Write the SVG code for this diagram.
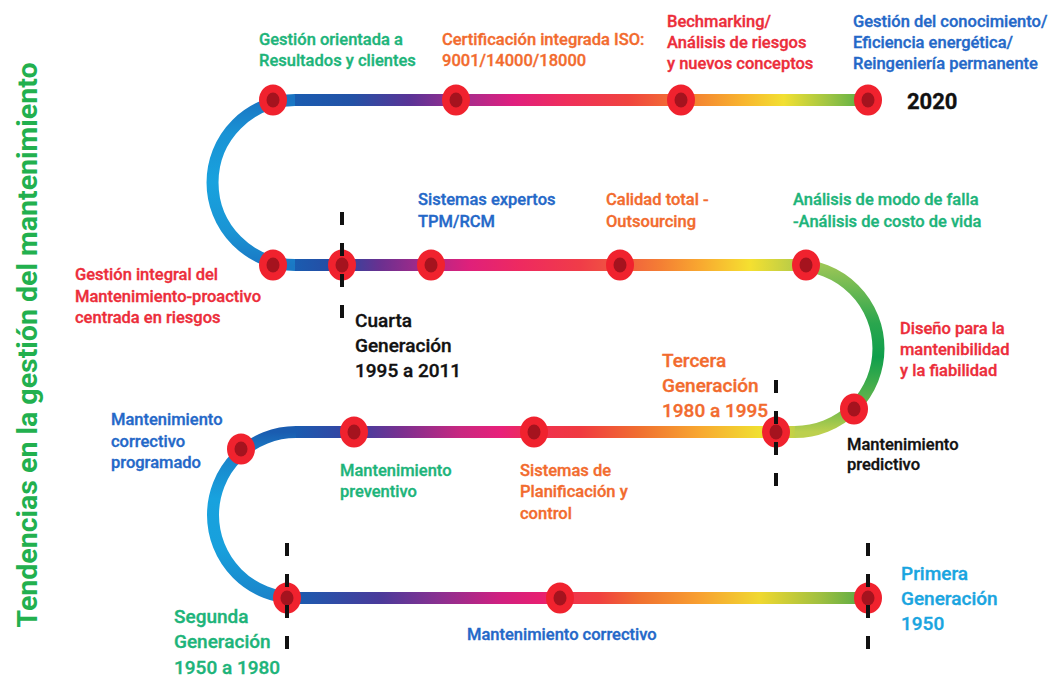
<svg xmlns="http://www.w3.org/2000/svg" width="1053" height="680" viewBox="0 0 1053 680">
<style>
  text { font-family: Roboto, "Liberation Sans", sans-serif; font-weight: 500; font-size: 16.5px; stroke-width: 0.35px; paint-order: stroke; }
  .big { font-size: 19px; }
  .green { fill: #1db47a; stroke: #1db47a; }
  .orange { fill: #f26b2e; stroke: #f26b2e; }
  .red { fill: #ec2d3a; stroke: #ec2d3a; }
  .blue { fill: #2468c8; stroke: #2468c8; }
  .lblue { fill: #1aa5e0; stroke: #1aa5e0; }
  .black { fill: #111111; stroke: #111111; }
  .track { fill: none; stroke-width: 12; }
  .mark { stroke: #111111; stroke-width: 4; stroke-dasharray: 13 18; }
  .title { font-size: 28.5px; font-weight: 700; fill: #22b04e; stroke: none; }
</style>
<defs>
  <linearGradient id="g1" gradientUnits="userSpaceOnUse" x1="295" y1="0" x2="870" y2="0">
    <stop offset="0" stop-color="#1a5cb0"/>
    <stop offset="0.1" stop-color="#2352a6"/>
    <stop offset="0.2" stop-color="#5a3396"/>
    <stop offset="0.3" stop-color="#a82c8c"/>
    <stop offset="0.38" stop-color="#e01f7e"/>
    <stop offset="0.47" stop-color="#ef2e5c"/>
    <stop offset="0.58" stop-color="#f0443e"/>
    <stop offset="0.68" stop-color="#f37a32"/>
    <stop offset="0.78" stop-color="#f8b52e"/>
    <stop offset="0.85" stop-color="#f2e032"/>
    <stop offset="0.93" stop-color="#9cc444"/>
    <stop offset="1" stop-color="#4caa44"/>
  </linearGradient>
  <linearGradient id="g2" gradientUnits="userSpaceOnUse" x1="295" y1="0" x2="795" y2="0">
    <stop offset="0" stop-color="#1a5cb0"/>
    <stop offset="0.094" stop-color="#2a48a0"/>
    <stop offset="0.17" stop-color="#6a3090"/>
    <stop offset="0.27" stop-color="#b02888"/>
    <stop offset="0.35" stop-color="#e0207a"/>
    <stop offset="0.45" stop-color="#ee2a60"/>
    <stop offset="0.57" stop-color="#f03c48"/>
    <stop offset="0.65" stop-color="#f05a40"/>
    <stop offset="0.73" stop-color="#f47e34"/>
    <stop offset="0.81" stop-color="#f8a830"/>
    <stop offset="0.91" stop-color="#f5e030"/>
    <stop offset="1" stop-color="#b8cc48"/>
  </linearGradient>
  <linearGradient id="g3" gradientUnits="userSpaceOnUse" x1="296" y1="0" x2="795" y2="0">
    <stop offset="0" stop-color="#1a5cb0"/>
    <stop offset="0.116" stop-color="#3a40a0"/>
    <stop offset="0.21" stop-color="#7a3090"/>
    <stop offset="0.33" stop-color="#c82880"/>
    <stop offset="0.41" stop-color="#e8207a"/>
    <stop offset="0.48" stop-color="#ef3050"/>
    <stop offset="0.57" stop-color="#f03a40"/>
    <stop offset="0.69" stop-color="#f07030"/>
    <stop offset="0.81" stop-color="#f8a830"/>
    <stop offset="0.93" stop-color="#f0e030"/>
    <stop offset="1" stop-color="#c0d048"/>
  </linearGradient>
  <linearGradient id="g4" gradientUnits="userSpaceOnUse" x1="296" y1="0" x2="868" y2="0">
    <stop offset="0" stop-color="#1a5cb0"/>
    <stop offset="0.147" stop-color="#4a3a9a"/>
    <stop offset="0.25" stop-color="#8a3090"/>
    <stop offset="0.357" stop-color="#d02080"/>
    <stop offset="0.43" stop-color="#e82070"/>
    <stop offset="0.46" stop-color="#f03050"/>
    <stop offset="0.53" stop-color="#f04040"/>
    <stop offset="0.6" stop-color="#f07030"/>
    <stop offset="0.706" stop-color="#f8a030"/>
    <stop offset="0.81" stop-color="#f0d830"/>
    <stop offset="0.916" stop-color="#a0c040"/>
    <stop offset="1" stop-color="#50a845"/>
  </linearGradient>
  <linearGradient id="ga1" gradientUnits="userSpaceOnUse" x1="0" y1="100" x2="0" y2="265">
    <stop offset="0" stop-color="#1a74c2"/>
    <stop offset="0.2" stop-color="#1a92d4"/>
    <stop offset="0.5" stop-color="#18a2de"/>
    <stop offset="0.8" stop-color="#1a94d4"/>
    <stop offset="1" stop-color="#1a78c4"/>
  </linearGradient>
  <linearGradient id="ga2" gradientUnits="userSpaceOnUse" x1="0" y1="265" x2="0" y2="432">
    <stop offset="0" stop-color="#9cc656"/>
    <stop offset="0.35" stop-color="#2aa64e"/>
    <stop offset="0.55" stop-color="#0f9f4c"/>
    <stop offset="0.85" stop-color="#6cb84c"/>
    <stop offset="1" stop-color="#bcd04e"/>
  </linearGradient>
  <linearGradient id="ga3" gradientUnits="userSpaceOnUse" x1="0" y1="432" x2="0" y2="598">
    <stop offset="0" stop-color="#1a5cb0"/>
    <stop offset="0.15" stop-color="#1a84ca"/>
    <stop offset="0.4" stop-color="#18a2de"/>
    <stop offset="0.7" stop-color="#18a0dc"/>
    <stop offset="1" stop-color="#1a84ca"/>
  </linearGradient>
  <g id="st">
    <ellipse rx="14" ry="15.5" fill="#f0222e"/>
    <ellipse rx="6.5" ry="7.5" fill="#a5131e"/>
  </g>
</defs>

<rect width="1053" height="680" fill="#ffffff"/>

<text class="title" transform="translate(37,345) rotate(-90)" text-anchor="middle">Tendencias en la gestión del mantenimiento</text>

<g id="connectors">
  <path class="track" stroke="url(#g1)" d="M295,100 H868"/>
  <path class="track" stroke="url(#ga1)" d="M295,100 A82.5,82.5 0 0 0 295,265"/>
  <path class="track" stroke="url(#g2)" d="M295,265 H795"/>
  <path class="track" stroke="url(#ga2)" d="M795,265 A83.5,83.5 0 0 1 795,432"/>
  <path class="track" stroke="url(#g3)" d="M296,432 H795"/>
  <path class="track" stroke="url(#ga3)" d="M296,432 A83,83 0 0 0 296,598"/>
  <path class="track" stroke="url(#g4)" d="M296,598 H868"/>
</g>

<!-- Row 1 -->
<g id="n-resultados">
  <use href="#st" x="273" y="100"/>
  <text class="green" x="259" y="45">Gestión orientada a</text>
  <text class="green" x="259" y="66">Resultados y clientes</text>
</g>
<g id="n-certificacion">
  <use href="#st" x="456" y="100"/>
  <text class="orange" x="442" y="45">Certificación integrada ISO:</text>
  <text class="orange" x="442" y="66">9001/14000/18000</text>
</g>
<g id="n-bechmarking">
  <use href="#st" x="681" y="100"/>
  <text class="red" x="667" y="27">Bechmarking/</text>
  <text class="red" x="667" y="48">Análisis de riesgos</text>
  <text class="red" x="667" y="69">y nuevos conceptos</text>
</g>
<g id="n-conocimiento">
  <use href="#st" x="868" y="100"/>
  <text class="blue" x="853" y="27">Gestión del conocimiento/</text>
  <text class="blue" x="853" y="48">Eficiencia energética/</text>
  <text class="blue" x="853" y="69">Reingeniería permanente</text>
  <text class="black" x="907" y="109" style="font-size:22px;font-weight:700">2020</text>
</g>

<!-- Row 2 -->
<g id="n-integral">
  <use href="#st" x="273" y="265"/>
  <text class="red" x="75" y="280">Gestión integral del</text>
  <text class="red" x="75" y="302">Mantenimiento-proactivo</text>
  <text class="red" x="75" y="323">centrada en riesgos</text>
</g>
<g id="n-cuarta">
  <use href="#st" x="342" y="265"/>
  <line class="mark" x1="342" y1="212" x2="342" y2="318"/>
  <text class="black big" x="355" y="327">Cuarta</text>
  <text class="black big" x="355" y="352">Generación</text>
  <text class="black big" x="355" y="377">1995 a 2011</text>
</g>
<g id="n-expertos">
  <use href="#st" x="431" y="265"/>
  <text class="blue" x="418" y="205">Sistemas expertos</text>
  <text class="blue" x="418" y="227">TPM/RCM</text>
</g>
<g id="n-calidad">
  <use href="#st" x="620" y="265"/>
  <text class="orange" x="606" y="205">Calidad total -</text>
  <text class="orange" x="606" y="227">Outsourcing</text>
</g>
<g id="n-falla">
  <use href="#st" x="806" y="265"/>
  <text class="green" x="793" y="205">Análisis de modo de falla</text>
  <text class="green" x="793" y="227">-Análisis de costo de vida</text>
</g>

<!-- Right bend -->
<g id="n-predictivo">
  <use href="#st" x="854" y="409"/>
  <text class="red" x="900" y="334">Diseño para la</text>
  <text class="red" x="900" y="355">mantenibilidad</text>
  <text class="red" x="900" y="376">y la fiabilidad</text>
  <text class="black" x="847" y="450">Mantenimiento</text>
  <text class="black" x="847" y="470">predictivo</text>
</g>

<!-- Row 3 -->
<g id="n-tercera">
  <use href="#st" x="776" y="432"/>
  <line class="mark" x1="776" y1="380" x2="776" y2="487"/>
  <text class="orange big" x="662" y="367">Tercera</text>
  <text class="orange big" x="662" y="392">Generación</text>
  <text class="orange big" x="662" y="417">1980 a 1995</text>
</g>
<g id="n-planificacion">
  <use href="#st" x="534" y="432"/>
  <text class="orange" x="520" y="476">Sistemas de</text>
  <text class="orange" x="520" y="497">Planificación y</text>
  <text class="orange" x="520" y="519">control</text>
</g>
<g id="n-preventivo">
  <use href="#st" x="354" y="432"/>
  <text class="green" x="340" y="476">Mantenimiento</text>
  <text class="green" x="340" y="497">preventivo</text>
</g>
<g id="n-programado">
  <use href="#st" x="241" y="449"/>
  <text class="blue" x="111" y="425">Mantenimiento</text>
  <text class="blue" x="111" y="447">correctivo</text>
  <text class="blue" x="111" y="468">programado</text>
</g>

<!-- Row 4 -->
<g id="n-segunda">
  <use href="#st" x="287" y="598"/>
  <line class="mark" x1="287" y1="543" x2="287" y2="649"/>
  <text class="green big" x="174" y="623">Segunda</text>
  <text class="green big" x="174" y="648">Generación</text>
  <text class="green big" x="174" y="674">1950 a 1980</text>
</g>
<g id="n-correctivo">
  <use href="#st" x="560" y="598"/>
  <text class="blue" x="467" y="640">Mantenimiento correctivo</text>
</g>
<g id="n-primera">
  <use href="#st" x="868" y="598"/>
  <line class="mark" x1="868" y1="543" x2="868" y2="649"/>
  <text class="lblue big" x="901" y="580">Primera</text>
  <text class="lblue big" x="901" y="605">Generación</text>
  <text class="lblue big" x="901" y="630">1950</text>
</g>
</svg>
